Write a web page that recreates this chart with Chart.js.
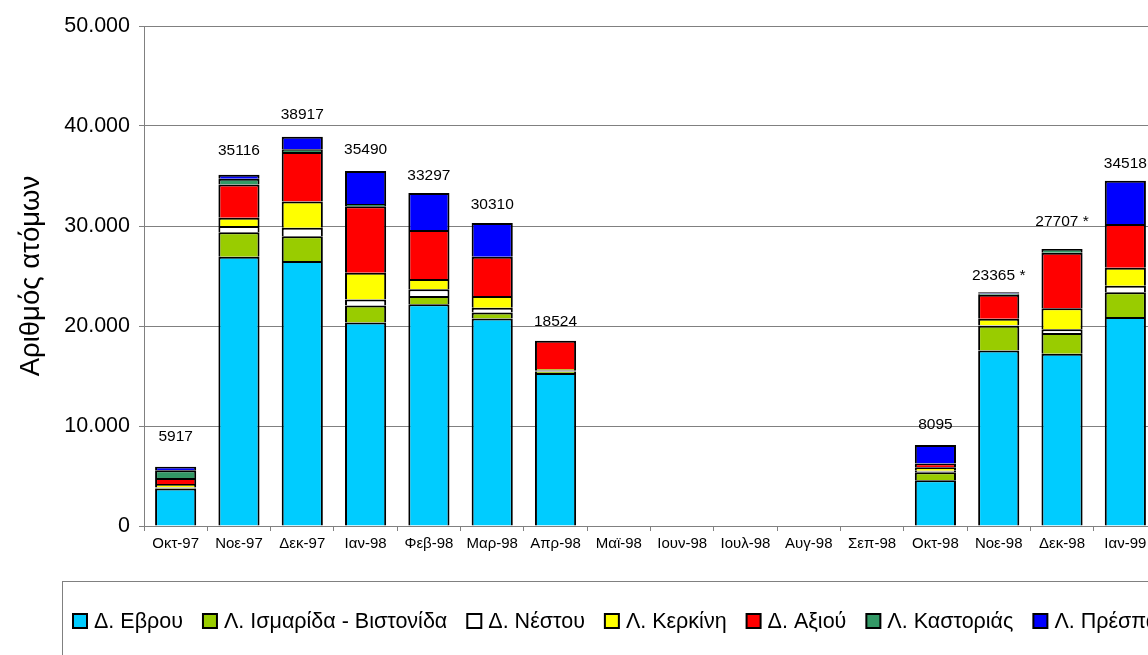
<!DOCTYPE html>
<html>
<head>
<meta charset="utf-8">
<script src="https://cdn.jsdelivr.net/npm/chart.js@4.4.1/dist/chart.umd.min.js"></script>
<style>
    html, body { margin: 0; padding: 0; background: #fff; overflow: hidden; }
    #wrap { position: absolute; left: 0; top: 0; width: 1148px; height: 655px; overflow: hidden; }
    canvas { display: block; }
</style>
</head>
<body>
<div id="wrap"><canvas id="birdsChart" width="1175" height="655"></canvas></div>
<script>
// Months on the x axis
const months = ["Οκτ-97", "Νοε-97", "Δεκ-97", "Ιαν-98", "Φεβ-98", "Μαρ-98", "Απρ-98", "Μαϊ-98",
    "Ιουν-98", "Ιουλ-98", "Αυγ-98", "Σεπ-98", "Οκτ-98", "Νοε-98", "Δεκ-98", "Ιαν-99"];

// Counts per wetland
const evrou    = [3750, 26930, 26500, 20350, 22170, 20750, 15300, null, null, null, null, null, 4580, 17560, 17230, 20900];
const ismarida = [80, 2440, 2470, 1700, 830, 600, 150, null, null, null, null, null, 800, 2470, 2070, 2470];
const nestou   = [40, 630, 850, 600, 670, 480, 130, null, null, null, null, null, 150, 40, 370, 660];
const kerkini  = [330, 820, 2630, 2670, 1030, 1170, 124, null, null, null, null, null, 350, 650, 2110, 1800];
const axiou    = [600, 3330, 4950, 6660, 4900, 3930, 2820, null, null, null, null, null, 380, 2410, 5550, 4370];
const kastoria = [770, 570, 270, 220, 0, 0, 0, null, null, null, null, null, 0, 120, 377, 0];
const prespa   = [347, 396, 1247, 3290, 3697, 3380, 0, null, null, null, null, null, 1835, 115, 0, 4318];

const seriesNames = ["Δ. Εβρου", "Λ. Ισμαρίδα - Βιστονίδα", "Δ. Νέστου", "Λ. Κερκίνη",
    "Δ. Αξιού", "Λ. Καστοριάς", "Λ. Πρέσπα"];

// Totals printed above the bars
const totalLabels = ["5917", "35116", "38917", "35490", "33297", "30310", "18524", "", "", "", "", "",
    "8095", "23365 *", "27707 *", "34518"];

const yTicks = [0, 10000, 20000, 30000, 40000, 50000];

/* --------------------------------------------------
   STYLE
-------------------------------------------------- */
const colors = ["#00CCFF", "#99CC00", "#FFFFFF", "#FFFF00", "#FF0000", "#339966", "#0000FF"];
const labelLift = [30, 24, 22, 21, 17, 18, 19, 0, 0, 0, 0, 0, 20, 17, 27, 17];
const FONT = "Arial, 'Liberation Sans', sans-serif";

function dotThousands(v) {
    return String(v).replace(/\B(?=(\d{3})+(?!\d))/g, ".");
}

const allSeries = [evrou, ismarida, nestou, kerkini, axiou, kastoria, prespa];

const datasets = allSeries.map((arr, i) => ({
    label: seriesNames[i],
    data: arr,
    backgroundColor: colors[i],
    borderColor: "#000",
    borderWidth: 2,
    borderSkipped: "start",
    barPercentage: 0.65,
    categoryPercentage: 1
}));

/* --------------------------------------------------
   PLUGINS: plot frame, totals, legend box
-------------------------------------------------- */
const framePlugin = {
    id: "frame",
    afterDraw(chart) {
        const { ctx, chartArea: a } = chart;
        ctx.save();
        ctx.strokeStyle = "#808080";
        ctx.lineWidth = 1;
        ctx.strokeRect(a.left + 0.5, a.top + 0.5, a.right - a.left, a.bottom - a.top);
        ctx.restore();
    }
};

const totalsPlugin = {
    id: "totals",
    afterDatasetsDraw(chart) {
        const { ctx, scales } = chart;
        ctx.save();
        ctx.font = "15.5px " + FONT;
        ctx.fillStyle = "#000";
        ctx.textAlign = "center";
        ctx.textBaseline = "middle";
        months.forEach((m, i) => {
            if (!totalLabels[i]) return;
            const sum = allSeries.reduce((s, arr) => s + (arr[i] || 0), 0);
            const x = scales.x.getPixelForValue(i);
            const y = scales.y.getPixelForValue(sum);
            ctx.fillText(totalLabels[i], x, y - labelLift[i]);
        });
        ctx.restore();
    }
};

const legendPlugin = {
    id: "legendBox",
    afterDraw(chart) {
        const ctx = chart.ctx;
        ctx.save();
        ctx.strokeStyle = "#808080";
        ctx.lineWidth = 1;
        ctx.strokeRect(62.5, 581.5, 1200, 120);

        ctx.font = "21.5px " + FONT;
        ctx.textBaseline = "middle";
        let x = 73;
        const cy = 621;
        seriesNames.forEach((name, i) => {
            ctx.fillStyle = colors[i];
            ctx.fillRect(x, cy - 7, 14, 14);
            ctx.strokeStyle = "#000";
            ctx.lineWidth = 2;
            ctx.strokeRect(x, cy - 7, 14, 14);
            ctx.fillStyle = "#000";
            ctx.fillText(name, x + 21, cy + 1);
            x += 21 + ctx.measureText(name).width + 20;
        });
        ctx.restore();
    }
};

/* --------------------------------------------------
   CHART
-------------------------------------------------- */
new Chart(document.getElementById("birdsChart"), {
    type: "bar",
    data: { labels: months, datasets: datasets },
    options: {
        responsive: false,
        animation: false,
        devicePixelRatio: 1,
        layout: { padding: { top: 26, right: 18, bottom: 100, left: 0 } },
        plugins: {
            legend: { display: false },
            tooltip: { enabled: false }
        },
        scales: {
            x: {
                stacked: true,
                offset: true,
                grid: { drawOnChartArea: false, drawTicks: true, tickLength: 5, color: "#808080", offset: true },
                border: { color: "#808080" },
                ticks: {
                    color: "#000",
                    font: { family: FONT, size: 15 },
                    maxRotation: 0,
                    autoSkip: false,
                    padding: 4
                },
                afterFit: s => { s.height = 29; }
            },
            y: {
                stacked: true,
                min: 0,
                max: 50000,
                afterBuildTicks: s => { s.ticks = yTicks.map(v => ({ value: v })); },
                ticks: {
                    color: "#000",
                    font: { family: FONT, size: 21.5 },
                    padding: 9,
                    callback: v => dotThousands(v)
                },
                grid: { color: "#808080", tickLength: 5 },
                border: { color: "#808080" },
                title: {
                    display: true,
                    text: "Αριθμός ατόμων",
                    color: "#000",
                    font: { family: FONT, size: 27.5 },
                    padding: { top: 15, bottom: 0 }
                },
                afterFit: s => { s.width = 144; }
            }
        }
    },
    plugins: [framePlugin, totalsPlugin, legendPlugin]
});
</script>
</body>
</html>
